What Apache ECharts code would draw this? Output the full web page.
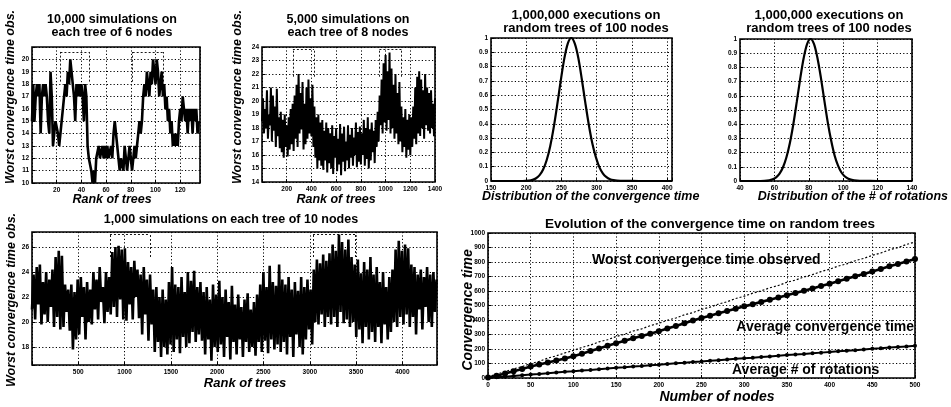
<!DOCTYPE html>
<html><head><meta charset="utf-8">
<script src="https://cdn.jsdelivr.net/npm/echarts@6/dist/echarts.min.js"></script>
<style>html,body{margin:0;padding:0;background:#fff}#c{width:951px;height:407px}</style>
</head><body><div id="c"></div>
<script>
// ---------- DATA ----------
// Panel 1: 10,000 simulations on each tree of 6 nodes (rank 0..135)
const p1Values = [15,18,15,17,18,17,18,14,17,18,17,18,17,15,14,19,17,13,14,15,
15,14,13,14,15,16,17,18,17,19,18,20,19,18,17,15,18,17,18,17,18,17,15,18,17,
13,12,12,11,10,11,10,12,12,13,12,12,13,12,13,12,13,12,12,13,12,14,15,14,13,
12,11,12,12,11,13,12,11,12,13,12,11,12,13,12,13,14,15,14,15,17,18,17,19,18,
17,19,18,20,19,18,20,19,17,18,19,17,18,16,17,15,16,14,15,13,14,13,14,13,15,
16,15,17,16,15,16,14,16,15,16,14,16,15,16,14,15];
const p1XTicks = [20,40,60,80,100,120];
const p1YTicks = [10,11,12,13,14,15,16,17,18,19,20];
const p1Brackets = [[23,46,18.2,20.6],[81.5,106,18.2,20.6]];

// Panel 2: 5,000 simulations on each tree of 8 nodes (rank step 8)
const p2Step = 8;
const p2Values = [18.5,20.2,17.6,19.4,18.0,20.8,17.2,19.0,18.2,21.0,
17.0,20.4,17.8,19.6,16.6,20.9,17.4,18.8,16.5,19.2,
16.2,18.6,15.8,19.0,16.6,18.2,15.9,18.8,16.4,19.4,
16.8,19.8,16.3,20.4,17.2,21.2,16.6,22.0,17.6,20.6,
17.9,21.4,16.4,19.8,16.8,21.0,17.2,21.6,17.6,20.2,
17.4,21.2,16.6,19.6,15.8,18.8,15.0,19.0,15.6,18.4,
15.2,18.6,14.9,17.8,15.6,18.4,14.7,18.0,15.4,17.6,
15.0,18.2,14.6,17.4,15.8,18.0,14.8,17.2,15.3,18.3,
14.5,17.6,15.5,18.1,14.8,17.0,15.6,18.2,15.0,17.5,
15.8,18.0,15.2,17.3,16.0,18.4,15.1,17.7,15.5,18.1,
15.3,17.6,16.0,18.6,15.2,18.0,15.7,18.8,15.0,17.9,
15.6,18.4,16.2,17.8,15.4,18.6,16.6,19.2,17.0,20.4,
18.2,21.6,17.6,22.8,18.4,23.4,17.8,22.2,18.6,23.6,
17.6,22.4,18.0,21.2,17.2,22.0,17.6,20.6,16.8,21.4,
17.0,19.6,16.2,18.8,16.6,19.4,15.8,18.6,16.4,19.0,
16.0,18.8,16.6,19.6,17.2,21.0,16.8,21.8,17.6,22.2,
17.4,21.6,18.0,20.8,17.2,22.0,18.2,21.0,17.8,20.6,
17.6,20.8,18.0,19.8,17.4,20.2];
const p2XTicks = [200,400,600,800,1000,1200,1400];
const p2YTicks = [14,15,16,17,18,19,20,21,22,23,24];
const p2Brackets = [[250,420,21.8,23.8],[950,1130,21.8,23.8]];

// Panel 3: distribution of the convergence time (100 nodes)
const timeX = [150,195,204,209,214,219,224,229,234,239,244,249,254,259,264,
269,274,279,284,289,294,299,304,309,314,319,324,329,339,360,407];
const timeY = [0,0,0.003,0.008,0.019,0.041,0.08,0.145,0.242,0.373,0.532,0.701,0.854,0.961,1.0,
0.96,0.86,0.71,0.545,0.39,0.26,0.165,0.095,0.052,0.027,0.013,0.006,0.003,0.001,0,0];
const timeXTicks = [150,200,250,300,350,400];
const distYTicks = [0,0.1,0.2,0.3,0.4,0.5,0.6,0.7,0.8,0.9,1];

// Panel 4: distribution of the # of rotations (100 nodes)
const rotX = [40,52,57,59,61,63,65,67,69,71,73,75,77,79,81,
83,85,87,89,91,93,95,97,99,101,103,105,108,112,120,140];
const rotY = [0,0,0.005,0.012,0.026,0.052,0.097,0.167,0.268,0.40,0.557,0.72,0.864,0.964,1.0,
0.965,0.868,0.73,0.57,0.415,0.285,0.18,0.108,0.06,0.032,0.016,0.008,0.003,0.001,0,0];
const rotXTicks = [40,60,80,100,120,140];

// Panel 5: 1,000 simulations on each tree of 10 nodes (rank step 17)
const p5Step = 17;
const p5Values = [21.0,23.8,20.2,24.4,21.4,24.6,19.8,23.2,20.6,24.0,
20.0,23.4,21.2,24.2,19.6,25.2,20.4,25.7,19.4,25.3,
19.6,23.0,20.8,22.6,19.3,23.0,17.8,22.4,18.6,23.4,
19.0,23.6,20.4,22.8,18.6,23.2,20.0,22.6,19.8,24.0,
21.0,23.4,20.2,24.4,21.6,22.8,19.9,24.0,20.8,23.6,
20.6,25.6,21.2,26.0,20.4,26.1,21.8,25.8,20.2,25.9,
20.1,24.8,21.4,24.4,20.2,24.9,22.0,24.2,20.3,23.8,
19.0,24.4,20.6,23.4,18.5,23.8,19.8,22.6,17.6,22.8,
18.4,22.0,17.2,22.6,18.0,21.8,17.4,23.2,18.2,24.4,
17.6,23.0,18.6,22.8,17.5,23.6,18.8,22.4,18.0,24.0,
18.3,23.3,19.2,24.1,18.4,22.8,19.0,23.2,18.5,22.4,
17.4,22.8,18.6,21.8,16.9,23.0,18.0,22.2,17.6,23.3,
18.2,22.0,17.2,22.6,18.8,21.6,17.0,22.9,18.4,21.4,
17.4,22.2,18.6,21.2,17.2,21.8,18.4,22.3,17.6,21.0,
18.0,21.6,17.3,22.2,18.4,23.0,17.6,24.0,18.5,22.8,
17.5,24.5,18.6,23.2,17.8,22.9,18.2,24.6,17.6,23.4,
18.4,23.0,17.4,23.6,18.8,22.6,17.2,23.2,19.0,22.5,
18.0,23.6,17.4,22.8,18.6,23.4,19.4,22.6,18.2,24.2,
20.0,25.0,19.8,24.7,20.6,25.4,19.6,24.9,20.4,25.5,
19.8,26.2,20.4,25.7,19.6,27.0,20.8,26.4,19.9,25.8,
20.2,26.6,19.6,25.2,20.0,24.6,18.8,25.0,19.4,23.9,
18.3,24.8,19.6,24.2,18.6,25.2,19.2,23.8,18.4,24.4,
19.6,23.2,18.3,24.0,19.8,22.8,18.6,23.6,19.2,24.2,
20.0,25.8,19.6,26.5,20.4,25.7,19.8,26.2,20.6,25.9,
19.6,24.6,20.4,24.4,19.0,23.8,21.0,24.2,19.4,23.6,
21.2,24.4,20.0,23.8,19.6,24.0,20.8,23.4];
const p5XTicks = [500,1000,1500,2000,2500,3000,3500,4000];
const p5YTicks = [18,20,22,24,26];
const p5Brackets = [[842,1274,25.2,27.0],[3035,3488,25.2,27.0]];

// Panel 6: evolution of the convergence time on random trees
const nodesX = [0,10,20,30,40,50,60,70,80,90,100,110,120,130,140,150,160,170,180,190,
200,210,220,230,240,250,260,270,280,290,300,310,320,330,340,350,360,370,380,390,
400,410,420,430,440,450,460,470,480,490,500];
const avgTime = [4,16,31,46,62,79,93,107,121,135,150,168,186,204,222,240,257,274,290,306,
322,341,359,377,396,414,430,446,462,478,494,509,525,540,555,570,586,602,618,634,
650,667,684,701,718,735,752,770,787,804,821];
const worstTime = [8,27,43,63,79,99,115,137,153,173,190,211,227,249,264,286,302,324,339,361,
377,398,414,436,451,473,489,510,526,548,564,585,601,622,638,660,675,697,713,734,
750,772,787,809,825,846,862,884,899,921,938];
const avgRot = [1,5,9,14,19,24,28,33,38,43,47,52,56,61,65,70,74,79,83,88,
92,97,101,105,110,114,119,123,127,132,136,140,145,149,153,158,162,166,171,175,
179,184,188,192,197,201,205,210,214,218,222];
const nodesTicks = [0,50,100,150,200,250,300,350,400,450,500];
const convTicks = [0,100,200,300,400,500,600,700,800,900,1000];

// ---------- CHART ----------
const FONT = '"Liberation Sans", Arial, Helvetica, sans-serif';
const chart = echarts.init(document.getElementById('c'), null, {renderer: 'canvas'});

const grids = [
  {left: 32, top: 47, width: 168, height: 136},
  {left: 262, top: 47, width: 173, height: 135},
  {left: 491, top: 38, width: 181, height: 143},
  {left: 740, top: 39, width: 172, height: 142},
  {left: 32, top: 232, width: 405, height: 133},
  {left: 488, top: 233, width: 427, height: 145}
].map(g => Object.assign({show: true, borderColor: '#000', borderWidth: 1.6, backgroundColor: 'transparent', containLabel: false}, g));

function fmt(ticks) {
  return v => {
    const t = ticks.find(t => Math.abs(t - v) < 1e-6);
    return t === undefined ? '' : String(t);
  };
}
function axis(gi, min, max, interval, ticks, isX, extra) {
  const a = {
    type: 'value', gridIndex: gi, min: min, max: max,
    axisLine: {show: false},
    axisTick: {show: true, inside: true, length: 3, lineStyle: {color: '#000', width: 1}},
    splitLine: {show: true, lineStyle: {color: '#000', type: [1.2, 2.2], width: 1}},
    axisLabel: {show: true, color: '#000', fontSize: 6.5, fontWeight: 'bold', fontFamily: FONT,
      margin: isX ? 4 : 3, formatter: fmt(ticks), showMinLabel: true, showMaxLabel: true}
  };
  if (interval != null) a.interval = interval;
  return Object.assign(a, extra || {});
}

function brackets(list) {
  const d = [];
  list.forEach(b => {
    const [x1, x2, y0, y1] = b;
    d.push([{coord: [x1, y1]}, {coord: [x2, y1]}]);
    d.push([{coord: [x1, y0]}, {coord: [x1, y1]}]);
    d.push([{coord: [x2, y0]}, {coord: [x2, y1]}]);
  });
  return {silent: true, symbol: ['none', 'none'], label: {show: false},
    lineStyle: {color: '#000', type: [2, 2], width: 0.9}, emphasis: {disabled: true}, data: d};
}

const xAxes = [
  axis(0, 0, 136, 20, p1XTicks, true),
  axis(1, 0, 1400, 200, p2XTicks, true),
  axis(2, 150, 407, 50, timeXTicks, true),
  axis(3, 40, 140, 20, rotXTicks, true),
  axis(4, 0, 4374, 500, p5XTicks, true),
  axis(5, 0, 500, 50, nodesTicks, true)
];
const yAxes = [
  axis(0, 10, 21, 1, p1YTicks, false),
  axis(1, 14, 24, 1, p2YTicks, false),
  axis(2, 0, 1, 0.1, distYTicks, false),
  axis(3, 0, 1, 0.1, distYTicks, false),
  axis(4, 16.56, 27.2, null, p5YTicks, false, {splitNumber: 5}),
  axis(5, 0, 1000, 100, convTicks, false)
];

const lineBase = {type: 'line', showSymbol: false, animation: false, silent: true, z: 3};
const series = [
  Object.assign({}, lineBase, {xAxisIndex: 0, yAxisIndex: 0,
    data: p1Values.map((v, i) => [i, v]), lineStyle: {color: '#000', width: 2.6},
    markLine: brackets(p1Brackets)}),
  Object.assign({}, lineBase, {xAxisIndex: 1, yAxisIndex: 1,
    data: p2Values.map((v, i) => [i * p2Step, v]), lineStyle: {color: '#000', width: 2},
    markLine: brackets(p2Brackets)}),
  Object.assign({}, lineBase, {xAxisIndex: 2, yAxisIndex: 2, smooth: 0.3,
    data: timeX.map((x, i) => [x, timeY[i]]), lineStyle: {color: '#000', width: 2.2}}),
  Object.assign({}, lineBase, {xAxisIndex: 3, yAxisIndex: 3, smooth: 0.3,
    data: rotX.map((x, i) => [x, rotY[i]]), lineStyle: {color: '#000', width: 2.2}}),
  Object.assign({}, lineBase, {xAxisIndex: 4, yAxisIndex: 4,
    data: p5Values.map((v, i) => [i * p5Step, v]), lineStyle: {color: '#000', width: 2.6},
    markLine: brackets(p5Brackets)}),
  Object.assign({}, lineBase, {xAxisIndex: 5, yAxisIndex: 5,
    data: nodesX.map((x, i) => [x, worstTime[i]]), lineStyle: {color: '#000', width: 1.2, type: [2, 2]}}),
  Object.assign({}, lineBase, {xAxisIndex: 5, yAxisIndex: 5, showSymbol: true, symbol: 'circle', symbolSize: 6,
    itemStyle: {color: '#000'},
    data: nodesX.map((x, i) => [x, avgTime[i]]), lineStyle: {color: '#000', width: 2.6}}),
  Object.assign({}, lineBase, {xAxisIndex: 5, yAxisIndex: 5, showSymbol: true, symbol: 'circle', symbolSize: 4,
    itemStyle: {color: '#000'},
    data: nodesX.map((x, i) => [x, avgRot[i]]), lineStyle: {color: '#000', width: 2}})
];

function txt(text, x, y, size, opts) {
  opts = opts || {};
  const el = {type: 'text', x: x, y: y, z: 50, silent: true,
    style: {text: text, x: 0, y: 0, fill: '#000',
      font: (opts.italic ? 'italic ' : '') + 'bold ' + size + 'px ' + FONT,
      align: opts.align || 'center', verticalAlign: 'middle', lineHeight: opts.lh || size}};
  if (opts.rot) el.rotation = Math.PI / 2;
  return el;
}

const graphic = [
  txt('10,000 simulations on\neach tree of 6 nodes', 112, 26, 12.5, {lh: 12.5}),
  txt('5,000 simulations on\neach tree of 8 nodes', 348, 26, 12.5, {lh: 12.5}),
  txt('1,000,000 executions on\nrandom trees of 100 nodes', 586, 22, 13, {lh: 13.5}),
  txt('1,000,000 executions on\nrandom trees of 100 nodes', 829, 22, 13, {lh: 13.5}),
  txt('1,000 simulations on each tree of 10 nodes', 231, 220, 12.5),
  txt('Evolution of the convergence time on random trees', 710, 224, 13.5),
  txt('Rank of trees', 112, 200, 12.5, {italic: true}),
  txt('Rank of trees', 336, 200, 12.5, {italic: true}),
  txt('Distribution of the convergence time', 482, 197, 12.5, {italic: true, align: 'left'}),
  txt('Distribution of the # of rotations', 948, 197, 12.5, {italic: true, align: 'right'}),
  txt('Rank of trees', 245, 383, 13, {italic: true}),
  txt('Number of nodes', 717, 397, 14, {italic: true}),
  txt('Worst convergence time obs.', 11, 97, 12.5, {italic: true, rot: true}),
  txt('Worst convergence time obs.', 238, 97, 12.5, {italic: true, rot: true}),
  txt('Worst convergence time obs.', 12, 300, 12.5, {italic: true, rot: true}),
  txt('Convergence time', 468, 310, 14, {italic: true, rot: true}),
  txt('Worst convergence time observed', 592, 260, 14, {align: 'left'}),
  txt('Average convergence time', 914, 327, 14, {align: 'right'}),
  txt('Average # of rotations', 732, 370, 14, {align: 'left'})
];

chart.setOption({
  animation: false,
  backgroundColor: '#fff',
  grid: grids,
  xAxis: xAxes,
  yAxis: yAxes,
  series: series,
  graphic: graphic
});
</script>
</body></html>
